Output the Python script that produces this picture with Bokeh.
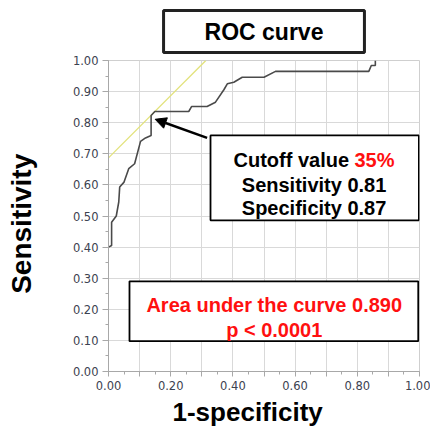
from bokeh.plotting import figure
from bokeh.models import (Range1d, SingleIntervalTicker, NumeralTickFormatter,
                          CustomJSTickFormatter, Label, BoxAnnotation, Arrow, NormalHead, Title)
from bokeh.embed import file_html
from bokeh.resources import INLINE

# ROC curve points (1-specificity, sensitivity)
fpr = [0.0, 0.01, 0.01, 0.025, 0.033, 0.036, 0.05, 0.065, 0.084, 0.103, 0.119, 0.137,
       0.137, 0.149, 0.258, 0.267, 0.317, 0.344, 0.371, 0.382, 0.403, 0.43, 0.5,
       0.537, 0.837, 0.845, 0.858, 0.858]
tpr = [0.40, 0.405, 0.48, 0.50, 0.545, 0.593, 0.609, 0.652, 0.668, 0.74, 0.751, 0.759,
       0.823, 0.836, 0.836, 0.852, 0.852, 0.866, 0.906, 0.925, 0.93, 0.946, 0.946,
       0.965, 0.965, 0.984, 0.984, 1.0]

# tangent line at the cutoff
tan_x = [0.0, 0.313]
tan_y = [0.687, 1.0]

title_text = "ROC curve"
x_label = "1-specificity"
y_label = "Sensitivity"
cutoff_txt = "Cutoff value"
cutoff_val = "35%"
sens_txt = "Sensitivity 0.81"
spec_txt = "Specificity 0.87"
auc_txt = "Area under the curve 0.890"
p_txt = "p < 0.0001"

FONT = "Liberation Sans"
NBSP = "\u00a0"

p = figure(width=430, height=430, x_range=Range1d(0, 1), y_range=Range1d(0, 1),
           output_backend="svg", toolbar_location=None, title=None,
           min_border_left=108, min_border_right=11, min_border_top=60, min_border_bottom=59)
p.background_fill_color = "white"
p.border_fill_color = "white"
p.outline_line_color = "#cfcfcf"

for ax in (p.xaxis[0], p.yaxis[0]):
    ax.ticker = SingleIntervalTicker(interval=0.1, num_minor_ticks=2)
    ax.axis_line_color = "#a8a8a8"
    ax.major_tick_line_color = "#a8a8a8"
    ax.minor_tick_line_color = "#a8a8a8"
    ax.major_tick_in = 0
    ax.minor_tick_in = 0
    ax.major_label_text_font = "DejaVu Sans"
    ax.major_label_text_font_size = "11.5px"
    ax.major_label_text_color = "#3c4250"

p.yaxis[0].formatter = NumeralTickFormatter(format="0.00")
p.xaxis[0].formatter = CustomJSTickFormatter(
    code="const k = Math.round(tick*10); return (k % 2 === 0) ? tick.toFixed(2) : '';")
p.yaxis[0].major_tick_out = 6
p.yaxis[0].minor_tick_out = 3
p.yaxis[0].major_label_standoff = 4
p.xaxis[0].major_tick_out = 5
p.xaxis[0].minor_tick_out = 3
p.xaxis[0].major_label_standoff = 4

# y axis title (trailing no-break spaces shift it slightly downward, as in the source)
p.yaxis[0].axis_label = y_label + NBSP * 2
p.yaxis[0].axis_label_standoff = 33
p.yaxis[0].axis_label_text_font = FONT
p.yaxis[0].axis_label_text_font_style = "bold"
p.yaxis[0].axis_label_text_font_size = "28px"
p.yaxis[0].axis_label_text_color = "black"

p.xgrid.grid_line_color = "#d9d9d9"
p.ygrid.grid_line_color = "#d9d9d9"

p.line(tan_x, tan_y, line_color="#e2e27c", line_width=1.3)
p.line(fpr, tpr, line_color="#4a4a4a", line_width=1.6)

# Title box
p.add_layout(Title(text=title_text, align="center", text_font=FONT, text_font_style="bold",
                   text_font_size="23px", text_color="black", standoff=16,
                   border_line_color="#222222", border_line_width=3,
                   background_fill_color="white",
                   padding=dict(left=41, right=41, top=8, bottom=8)), "above")

# x axis title
p.add_layout(Title(text=x_label, align="left", offset=64, text_font=FONT,
                   text_font_style="bold", text_font_size="26px", text_color="black",
                   standoff=5), "below")

# Cutoff box
p.add_layout(BoxAnnotation(left=0.328, right=0.998, bottom=0.486, top=0.759,
                           fill_color="white", fill_alpha=1.0,
                           line_color="black", line_width=1.8, line_alpha=1.0))
p.add_layout(Label(x=0.402, y=0.681, text=cutoff_txt, text_align="left",
                   text_baseline="alphabetic", text_font=FONT, text_font_style="bold",
                   text_font_size="20px", text_color="black"))
p.add_layout(Label(x=0.791, y=0.681, text=cutoff_val, text_align="left",
                   text_baseline="alphabetic", text_font=FONT, text_font_style="bold",
                   text_font_size="20px", text_color="#ff1010"))
p.add_layout(Label(x=0.661, y=0.601, text=sens_txt, text_align="center",
                   text_baseline="alphabetic", text_font=FONT, text_font_style="bold",
                   text_font_size="20px", text_color="black"))
p.add_layout(Label(x=0.661, y=0.525, text=spec_txt, text_align="center",
                   text_baseline="alphabetic", text_font=FONT, text_font_style="bold",
                   text_font_size="20px", text_color="black"))

# Arrow to the cutoff point
p.add_layout(Arrow(end=NormalHead(size=11, fill_color="black", line_color="black"),
                   x_start=0.317, y_start=0.751, x_end=0.150, y_end=0.811,
                   line_color="black", line_width=2.5))

# AUC box
p.add_layout(BoxAnnotation(left=0.0675, right=0.996, bottom=0.0974, top=0.290,
                           fill_color="white", fill_alpha=1.0,
                           line_color="black", line_width=1.8, line_alpha=1.0))
p.add_layout(Label(x=0.533, y=0.2154, text=auc_txt, text_align="center",
                   text_baseline="alphabetic", text_font=FONT, text_font_style="bold",
                   text_font_size="20px", text_color="#ff1010"))
p.add_layout(Label(x=0.533, y=0.134, text=p_txt, text_align="center",
                   text_baseline="alphabetic", text_font=FONT, text_font_style="bold",
                   text_font_size="20px", text_color="#ff1010"))

open("out.html", "w").write(file_html(p, INLINE))
